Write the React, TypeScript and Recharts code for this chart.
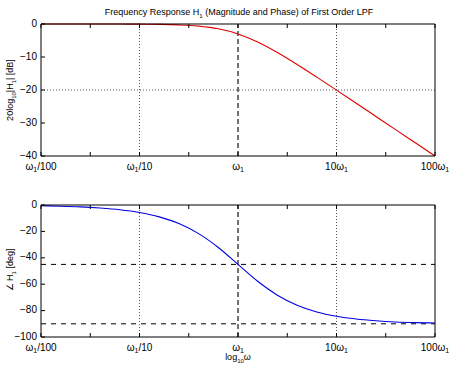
import { LineChart, Line, XAxis, YAxis, ReferenceLine } from "recharts";

// log10(ω/ω1) positions where the curves were read
const logW = [-2, -1.8, -1.6, -1.4, -1.2, -1, -0.8, -0.6, -0.4, -0.2, 0, 0.2, 0.4, 0.6, 0.8, 1, 1.2, 1.4, 1.6, 1.8, 2];
// magnitude in dB
const magDb = [0, 0, 0, -0.01, -0.02, -0.04, -0.11, -0.27, -0.64, -1.46, -3.01, -5.46, -8.64, -12.27, -16.11, -20.04, -24.02, -28.01, -32.0, -36.0, -40.0];
// phase in degrees
const phaseDeg = [-0.6, -0.9, -1.4, -2.3, -3.6, -5.7, -9.0, -14.1, -21.7, -32.2, -45, -57.8, -68.3, -75.9, -81.0, -84.3, -86.4, -87.7, -88.6, -89.1, -89.4];

const xTicks = [-2, -1.5, -1, -0.5, 0, 0.5, 1, 1.5, 2];
const xLabels: Record<string, [string, string, string]> = {
  "-2": ["ω", "1", "/100"],
  "-1": ["ω", "1", "/10"],
  "0": ["ω", "1", ""],
  "1": ["10ω", "1", ""],
  "2": ["100ω", "1", ""],
};
const magTicks = [0, -10, -20, -30, -40];
const phaseTicks = [0, -20, -40, -60, -80, -100];

const FONT = "'Liberation Sans', Arial, Helvetica, sans-serif";

const magData = logW.map((x, i) => ({ x, y: magDb[i] }));
const phaseData = logW.map((x, i) => ({ x, y: phaseDeg[i] }));

function BottomTick({ x, y, payload }: any) {
  const lab = xLabels[String(payload.value)];
  return (
    <g>
      <line x1={x} y1={y} x2={x} y2={y - 4} stroke="#000" />
      {lab && (
        <text x={x} y={y + 13.5} textAnchor="middle" fontSize={10} fontFamily={FONT} fill="#000">
          <tspan>{lab[0]}</tspan>
          <tspan fontSize={7} dy={2.5}>{lab[1]}</tspan>
          <tspan dy={-2.5}>{lab[2]}</tspan>
        </text>
      )}
    </g>
  );
}

function TopTick({ x, y }: any) {
  return <line x1={x} y1={y} x2={x} y2={y + 4} stroke="#000" />;
}

function LeftTick({ x, y, payload }: any) {
  return (
    <g>
      <line x1={x} y1={y} x2={x + 4} y2={y} stroke="#000" />
      <text x={x - 4} y={y + 2.5} textAnchor="end" fontSize={10} fontFamily={FONT} fill="#000">
        {payload.value < 0 ? "\u2212" + Math.abs(payload.value) : payload.value}
      </text>
    </g>
  );
}

function RightTick({ x, y }: any) {
  return <line x1={x} y1={y} x2={x - 4} y2={y} stroke="#000" />;
}

function Panel({ data, color, ticks, domain, children }: any) {
  return (
    <LineChart width={459} height={185} data={data} margin={{ top: 20, right: 20, bottom: 9, left: 11 }}>
      <XAxis dataKey="x" type="number" domain={[-2, 2]} ticks={xTicks} height={20} tickSize={0} tickMargin={0}
        tick={<BottomTick />} axisLine={{ stroke: "#000" }} tickLine={false} interval={0} />
      <XAxis xAxisId="top" orientation="top" dataKey="x" type="number" domain={[-2, 2]} ticks={xTicks} height={4}
        tickSize={0} tickMargin={0} tick={<TopTick />} axisLine={{ stroke: "#000" }} tickLine={false} interval={0} />
      <YAxis type="number" domain={domain} ticks={ticks} width={30} tickSize={0} tickMargin={0}
        tick={<LeftTick />} axisLine={{ stroke: "#000" }} tickLine={false} interval={0} />
      <YAxis yAxisId="right" orientation="right" type="number" domain={domain} ticks={ticks} width={4}
        tickSize={0} tickMargin={0} tick={<RightTick />} axisLine={{ stroke: "#000" }} tickLine={false} interval={0} />
      {children}
      <ReferenceLine x={0} stroke="#707070" strokeWidth={2} strokeDasharray="5 3" />
      <Line type="monotone" dataKey="y" stroke={color} strokeWidth={1.1} dot={false} isAnimationActive={false} />
    </LineChart>
  );
}

export default function App() {
  return (
    <div style={{ position: "absolute", left: 0, top: 0, width: 459, height: 368, background: "#fff", fontFamily: FONT }}>
      <svg width={459} height={368} style={{ position: "absolute", left: 0, top: 0 }}>
        <text x={239} y={15} textAnchor="middle" fontSize={9} fontFamily={FONT} fill="#000">
          <tspan>Frequency Response H</tspan>
          <tspan fontSize={6} dy={3}>1</tspan>
          <tspan dy={-3}> (Magnitude and Phase) of First Order LPF</tspan>
        </text>
        <text transform="translate(13,90) rotate(-90)" textAnchor="middle" fontSize={9} fontFamily={FONT} fill="#000">
          <tspan>20log</tspan>
          <tspan fontSize={6} dy={3}>10</tspan>
          <tspan dy={-3}>|H</tspan>
          <tspan fontSize={6} dy={3}>1</tspan>
          <tspan dy={-3}>| [dB]</tspan>
        </text>
        <text transform="translate(13,270) rotate(-90)" textAnchor="middle" fontSize={9} fontFamily={FONT} fill="#000">
          <tspan>∠ H</tspan>
          <tspan fontSize={6} dy={3}>1</tspan>
          <tspan dy={-3}> [deg]</tspan>
        </text>
        <text x={238} y={360} textAnchor="middle" fontSize={9} fontFamily={FONT} fill="#000">
          <tspan>log</tspan>
          <tspan fontSize={6} dy={3}>10</tspan>
          <tspan dy={-3}>ω</tspan>
        </text>
      </svg>
      <div style={{ position: "absolute", left: 0, top: 0 }}>
        <Panel data={magData} color="#e00000" ticks={magTicks} domain={[-40, 0]}>
          <ReferenceLine x={-1} stroke="#555" strokeDasharray="1 2" />
          <ReferenceLine x={1} stroke="#555" strokeDasharray="1 2" />
          <ReferenceLine y={-20} stroke="#555" strokeDasharray="1 2" />
        </Panel>
      </div>
      <div style={{ position: "absolute", left: 0, top: 181 }}>
        <Panel data={phaseData} color="#0000e0" ticks={phaseTicks} domain={[-100, 0]}>
          <ReferenceLine x={-1} stroke="#555" strokeDasharray="1 2" />
          <ReferenceLine x={1} stroke="#555" strokeDasharray="1 2" />
          <ReferenceLine y={-45} stroke="#000" strokeDasharray="5 5" />
          <ReferenceLine y={-90} stroke="#000" strokeDasharray="5 5" />
        </Panel>
      </div>
    </div>
  );
}
